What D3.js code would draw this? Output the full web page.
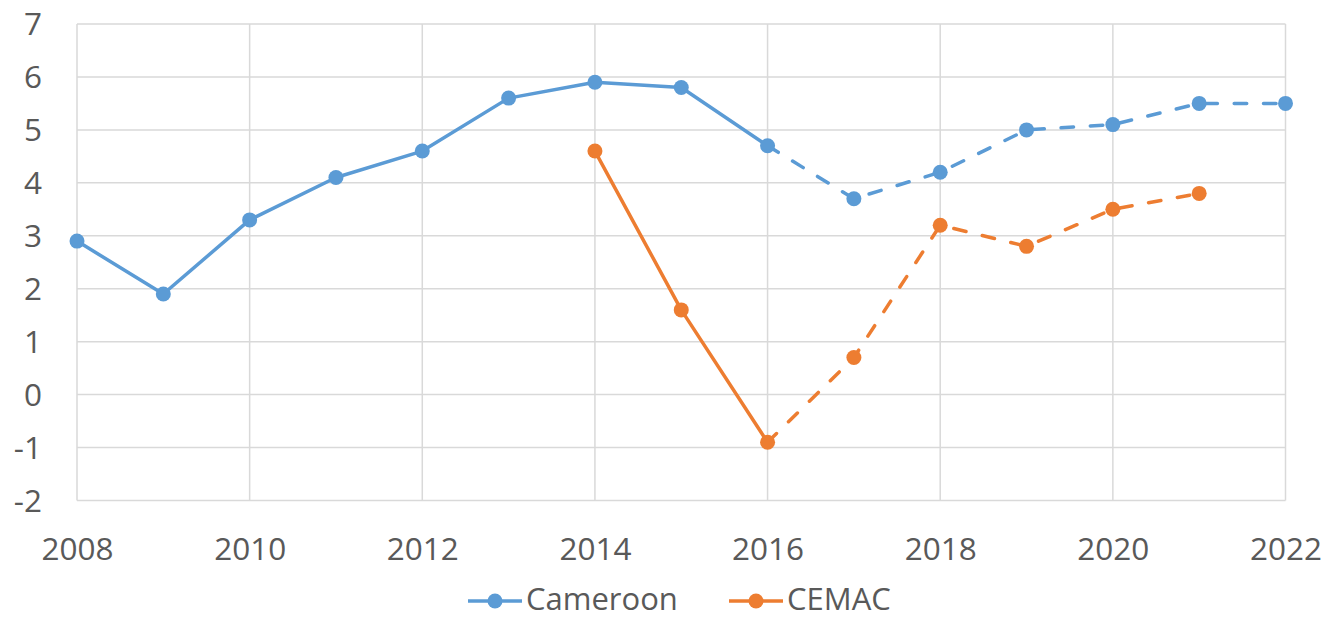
<!DOCTYPE html>
<html><head><meta charset="utf-8">
<script src="https://cdn.jsdelivr.net/npm/d3@7"></script>
<style>body{margin:0;background:#fff;} text{font-family:"Open Sans",sans-serif;fill:#595959;}</style>
</head><body>
<svg id="c" width="1326" height="619"></svg>
<script>
const years = [2008,2009,2010,2011,2012,2013,2014,2015,2016,2017,2018,2019,2020,2021,2022];
const cameroon = [2.9,1.9,3.3,4.1,4.6,5.6,5.9,5.8,4.7,3.7,4.2,5.0,5.1,5.5,5.5];
const cemac = [null,null,null,null,null,null,4.6,1.6,-0.9,0.7,3.2,2.8,3.5,3.8,null];
const lastActualYear = 2016;
const xTicks = [2008,2010,2012,2014,2016,2018,2020,2022];
const yTicks = [-2,-1,0,1,2,3,4,5,6,7];
const seriesNames = ["Cameroon","CEMAC"];
const colors = ["#5B9BD5","#ED7D31"];

const svg = d3.select("#c");
const x = d3.scaleLinear().domain([2008,2022]).range([77,1285.5]);
const y = d3.scaleLinear().domain([-2,7]).range([500.5,24]);

const grid = svg.append("g").attr("stroke","#d9d9d9").attr("stroke-width",1.5);
grid.selectAll("line.h").data(yTicks).join("line")
  .attr("x1",x(2008)).attr("x2",x(2022)).attr("y1",d=>y(d)).attr("y2",d=>y(d));
grid.selectAll("line.v").data(xTicks).join("line")
  .attr("x1",d=>x(d)).attr("x2",d=>x(d)).attr("y1",y(7)).attr("y2",y(-2));

const yAxis = d3.axisLeft(y).tickValues(yTicks).tickSize(0).tickPadding(0).tickFormat(d=>String(d));
const ya = svg.append("g").attr("transform","translate(42,0)").call(yAxis);
ya.select(".domain").remove();
ya.selectAll("text").attr("font-size",31.5).attr("fill","#595959").attr("dy","0.34em").style("font-family","'Open Sans',sans-serif");

const xAxis = d3.axisBottom(x).tickValues(xTicks).tickSize(0).tickPadding(0).tickFormat(d=>String(d));
const xa = svg.append("g").attr("transform","translate(0,549)").call(xAxis);
xa.select(".domain").remove();
xa.selectAll("text").attr("font-size",31.5).attr("fill","#595959").attr("dy","0.34em").style("font-family","'Open Sans',sans-serif");

const line = d3.line().defined(d=>d.v!==null).x(d=>x(d.year)).y(d=>y(d.v));
[cameroon,cemac].forEach((vals,i)=>{
  const pts = years.map((yr,j)=>({year:yr,v:vals[j]}));
  const solid = pts.filter(p=>p.year<=lastActualYear && p.v!==null);
  const dashed = pts.filter(p=>p.year>=lastActualYear && p.v!==null);
  const g = svg.append("g");
  g.append("path").datum(solid).attr("d",line).attr("fill","none")
    .attr("stroke",colors[i]).attr("stroke-width",3.5).attr("stroke-linejoin","round").attr("stroke-linecap","round");
  g.append("path").datum(dashed).attr("d",line).attr("fill","none")
    .attr("stroke",colors[i]).attr("stroke-width",3.5).attr("stroke-linecap","round")
    .attr("stroke-dasharray","12.5,16.8");
  g.selectAll("circle").data(pts.filter(p=>p.v!==null)).join("circle")
    .attr("cx",d=>x(d.year)).attr("cy",d=>y(d.v)).attr("r",7.5).attr("fill",colors[i]);
});

// legend
const legendX = [468,729];
seriesNames.forEach((n,i)=>{
  const g = svg.append("g").attr("transform",`translate(${legendX[i]},601)`);
  g.append("line").attr("x1",0).attr("x2",54).attr("stroke",colors[i]).attr("stroke-width",3.5);
  g.append("circle").attr("cx",27).attr("r",7.5).attr("fill",colors[i]);
  g.append("text").attr("x",58).attr("dy","0.3em").attr("font-size",31).text(n);
});
</script>
</body></html>
